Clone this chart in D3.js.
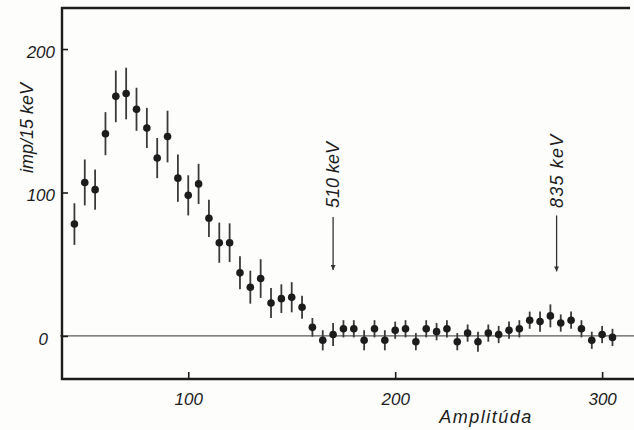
<!DOCTYPE html>
<html><head><meta charset="utf-8">
<script src="https://cdn.jsdelivr.net/npm/d3@7/dist/d3.min.js"></script>
<style>html,body{margin:0;padding:0;background:#fdfdfc;} svg{display:block}</style>
</head><body>
<script>
// ---- data ----
const channels = [45,50,55,60,65,70,75,80,85,90,95,100,105,110,115,120,125,130,135,140,145,150,155,160,
  165,170,175,180,185,190,195,200,205,210,215,220,225,230,235,240,245,250,255,260,265,270,275,280,285,290,295,300,305];
const counts = [78,107,102,141,167,169,158,145,124,139,110,98,106,82,65,65,44,34,40,23,26,27,20,6,
  -3,1,5,5,-3,5,-3,4,5,-4,5,3,5,-4,2,-4,2,1,4,5,11,10,14,9,11,5,-3,1,-1];
const errors = [14.5,16,14,15,18,18,15,14,14,18,16.5,14,14,13,14,13.5,11.5,11.5,13.5,10.5,10,10.5,8,6.5,
  7,8,6,6,7,6,7,6,6,6,6,6,6,6,6,7,6,6,6,6,6,7,8,6,6,6,6,6,6];
const xTicks = [100,200,300];
const yTicks = [0,100,200];
const peakLabels = ["510 keV","835 keV"];
const peakAt = [170,278];
const arrowTop = [83,84];
const arrowBottom = [46,45];
const xTitle = "Amplitúda";
const yTitle = "imp/15 keV";

const W = 634, H = 430;
const L = 62, R = 634, T = 8, B = 379;
const x = d3.scaleLinear().domain([39, 315.4]).range([L, R]);
const y = d3.scaleLinear().domain([-30, 228.6]).range([B, T]);

const svg = d3.select("body").append("svg").attr("width", W).attr("height", H)
  .style("background", "#fdfdfc");

const font = "'Liberation Sans', Arial, sans-serif";
const ink = "#1c1c1c";

// zero line
svg.append("line").attr("x1", L - 2).attr("x2", R).attr("y1", y(0)).attr("y2", y(0))
  .attr("stroke", "#5a5a5a").attr("stroke-width", 1.3);

// axes (ticks inward)
const xAxis = d3.axisBottom(x).tickValues(xTicks).tickSize(-7).tickPadding(16).tickFormat(d3.format("d"));
const gx = svg.append("g").attr("transform", `translate(0,${B})`).call(xAxis);
gx.select(".domain").remove();
gx.selectAll(".tick line").attr("stroke", ink).attr("stroke-width", 1.6);
gx.selectAll(".tick text").attr("font-family", font).attr("font-style", "italic")
  .attr("font-size", 17).attr("fill", ink).attr("dy", 0).attr("y", 26);

const yAxis = d3.axisLeft(y).tickValues(yTicks).tickSize(-6).tickPadding(7).tickFormat(d3.format("d"));
const gy = svg.append("g").attr("transform", `translate(${L},0)`).call(yAxis);
gy.select(".domain").remove();
gy.selectAll(".tick line").attr("stroke", ink).attr("stroke-width", 1.6);
gy.selectAll(".tick text").attr("font-family", font).attr("font-style", "italic")
  .attr("font-size", 17).attr("fill", ink).attr("dy", "0.5em");
gy.selectAll(".tick").filter(d => d === 0).select("text").attr("dx", -7);

// frame (left, top, bottom)
svg.append("path")
  .attr("d", `M${R - 4},${T} L${L},${T} L${L},${B} L${R},${B}`)
  .attr("fill", "none").attr("stroke", ink).attr("stroke-width", 2.4);

// error bars
const pts = channels.map((c, i) => ({c, v: counts[i], e: errors[i]}));
svg.append("g").selectAll("line").data(pts).join("line")
  .attr("x1", d => x(d.c)).attr("x2", d => x(d.c))
  .attr("y1", d => y(d.v + d.e)).attr("y2", d => y(d.v - d.e))
  .attr("stroke", "#3a3a3a").attr("stroke-width", 1.8);
svg.append("g").selectAll("circle").data(pts).join("circle")
  .attr("cx", d => x(d.c)).attr("cy", d => y(d.v)).attr("r", 3.8)
  .attr("fill", ink);

// peak arrows and labels
svg.append("defs").append("marker").attr("id", "ah")
  .attr("viewBox", "0 0 10 10").attr("refX", 10).attr("refY", 5)
  .attr("markerWidth", 10).attr("markerHeight", 5).attr("markerUnits", "userSpaceOnUse")
  .attr("orient", "auto")
  .append("path").attr("d", "M0,0 L10,5 L0,10 Z").attr("fill", "#333");

peakAt.forEach((p, i) => {
  svg.append("line").attr("x1", x(p)).attr("x2", x(p))
    .attr("y1", y(arrowTop[i])).attr("y2", y(arrowBottom[i]))
    .attr("stroke", "#333").attr("stroke-width", 1.3).attr("marker-end", "url(#ah)");
  svg.append("text")
    .attr("transform", `translate(${x(p) + 6},208) rotate(-90)`)
    .attr("font-family", font).attr("font-style", "italic").attr("font-size", 18)
    .attr("letter-spacing", i === 1 ? 1.2 : 0)
    .attr("fill", ink).text(peakLabels[i]);
});

// titles
svg.append("text").attr("x", 486).attr("y", 423).attr("text-anchor", "middle")
  .attr("font-family", font).attr("font-style", "italic").attr("font-size", 18)
  .attr("letter-spacing", 1.5).attr("fill", ink).text(xTitle);
svg.append("text").attr("transform", "translate(33,128) rotate(-90)").attr("text-anchor", "middle")
  .attr("font-family", font).attr("font-style", "italic").attr("font-size", 18)
  .attr("fill", ink).text(yTitle);
</script>
</body></html>
